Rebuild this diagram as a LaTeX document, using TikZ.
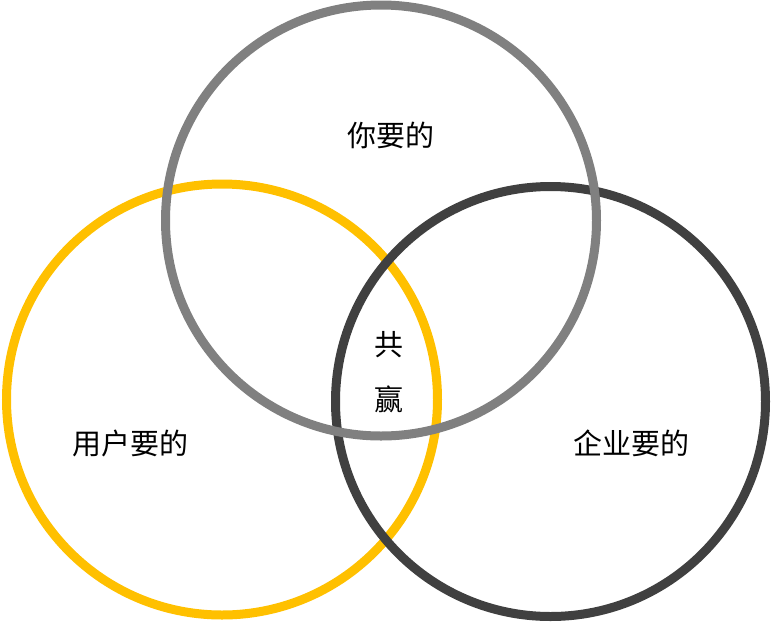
\documentclass[tikz,border=0pt]{standalone}
\usepackage{fontspec}
\newfontfamily\cjk{Noto Sans CJK SC}
\definecolor{ringgray}{HTML}{808080}
\definecolor{ringyellow}{HTML}{FFC000}
\definecolor{ringdark}{HTML}{404040}
\tikzset{
  ring/.style={line width=9pt, fill=none},
  lbl/.style={font=\cjk\fontsize{29}{32}\selectfont, text=black, inner sep=0pt}
}
\begin{document}
\begin{tikzpicture}[x=1pt,y=-1pt]
\useasboundingbox (0,0) rectangle (771,622);
\draw[ring, draw=ringyellow] (222,399.5) circle[radius=215.5];
\draw[ring, draw=ringdark] (550.5,401.5) circle[radius=215];
\draw[ring, draw=ringgray] (381,220.5) circle[radius=215.5];
\node[lbl] (you) at (391,135) {你要的};
\node[lbl] (user) at (130,443) {用户要的};
\node[lbl] (firm) at (631,443) {企业要的};
\node[lbl] (gong) at (389,345) {共};
\node[lbl] (ying) at (389,399) {赢};
\end{tikzpicture}
\end{document}
